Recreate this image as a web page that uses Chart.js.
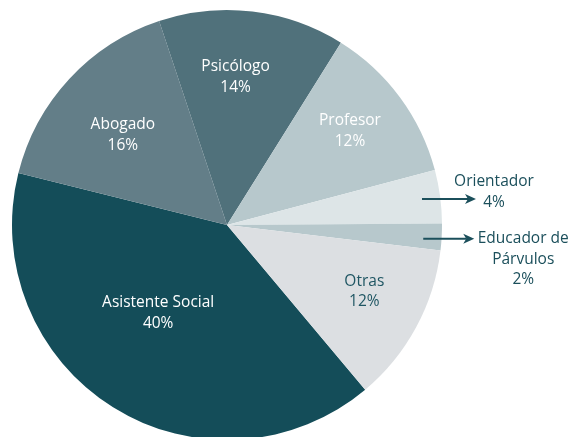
<!DOCTYPE html>
<html>
<head>
<meta charset="utf-8">
<script src="https://cdn.jsdelivr.net/npm/chart.js@4"></script>
<style>
html,body{margin:0;padding:0;background:#fff;overflow:hidden;width:568px;height:437px;}
#wrap{position:absolute;left:0;top:0;width:568px;height:460px;}
</style>
</head>
<body>
<div id="wrap"><canvas id="c"></canvas></div>
<script>
const categories = ["Asistente Social", "Abogado", "Psicólogo", "Profesor", "Orientador", "Educador de Párvulos", "Otras"];
const values = [40, 16, 14, 12, 4, 2, 12];
const valueLabels = ["40%", "16%", "14%", "12%", "4%", "2%", "12%"];
const labelLines = [["Asistente Social"], ["Abogado"], ["Psicólogo"], ["Profesor"], ["Orientador"], ["Educador de", "Párvulos"], ["Otras"]];

const colors = ["#144d59", "#637e88", "#50717b", "#b7c8cc", "#dde5e7", "#b7c8cc", "#dcdfe2"];
const textColors = ["#ffffff", "#ffffff", "#ffffff", "#ffffff", "#1b4f5b", "#1b4f5b", "#1f5663"];
// label placement: [angle offset deg, radius fraction] for inside; outside flagged
const placement = [
  {a: 6, r: 0.52},
  {a: -2, r: 0.64},
  {a: -3.5, r: 0.69},
  {a: -1, r: 0.72},
  {out: true, ar: 0.915, len: 54, tx: 72, ty: -17},
  {out: true, ar: 0.915, len: 51, tx: 100, ty: 0, aoff: 0.8}
  ,{a: -2.5, r: 0.71}
];

const labelPlugin = {
  id: 'sliceLabels',
  afterDatasetsDraw(chart) {
    const ctx = chart.ctx;
    const meta = chart.getDatasetMeta(0);
    ctx.save();
    ctx.font = '15.5px "Open Sans", "Noto Sans", sans-serif';
    ctx.textAlign = 'center';
    ctx.textBaseline = 'middle';
    meta.data.forEach((arc, i) => {
      const p = arc.getProps(['x', 'y', 'startAngle', 'endAngle', 'outerRadius'], true);
      const mid = (p.startAngle + p.endAngle) / 2;
      const pl = placement[i];
      const lines = labelLines[i].concat([valueLabels[i]]);
      const lh = 20.5;
      ctx.fillStyle = textColors[i];
      if (!pl.out) {
        const ang = mid + pl.a * Math.PI / 180;
        const cx = p.x + Math.cos(ang) * p.outerRadius * pl.r;
        const cy = p.y + Math.sin(ang) * p.outerRadius * pl.r;
        const y0 = cy - (lines.length - 1) * lh / 2;
        lines.forEach((t, k) => ctx.fillText(t, cx, y0 + k * lh));
      } else {
        const ang = mid + (pl.aoff || 0) * Math.PI / 180;
        const sx = p.x + Math.cos(ang) * p.outerRadius * pl.ar;
        const sy = p.y + Math.sin(ang) * p.outerRadius * pl.ar;
        const ex = sx + pl.len;
        ctx.strokeStyle = '#1b4f5b';
        ctx.lineWidth = 2;
        ctx.beginPath();
        ctx.moveTo(sx, sy);
        ctx.lineTo(ex - 8, sy);
        ctx.stroke();
        ctx.beginPath();
        ctx.moveTo(ex, sy);
        ctx.lineTo(ex - 11, sy - 5);
        ctx.lineTo(ex - 8, sy);
        ctx.lineTo(ex - 11, sy + 5);
        ctx.closePath();
        ctx.fill();
        const cx = sx + pl.tx;
        const y0 = sy + pl.ty;
        lines.forEach((t, k) => ctx.fillText(t, cx, y0 + k * lh));
      }
    });
    ctx.restore();
  }
};

new Chart(document.getElementById('c'), {
  type: 'pie',
  data: {
    labels: categories,
    datasets: [{
      data: values,
      backgroundColor: colors,
      borderWidth: 0
    }]
  },
  options: {
    responsive: true,
    maintainAspectRatio: false,
    animation: false,
    rotation: 140,
    layout: {padding: {left: 12, top: 10, right: 126, bottom: 20}},
    plugins: {legend: {display: false}, tooltip: {enabled: false}}
  },
  plugins: [labelPlugin]
});
</script>
</body>
</html>
